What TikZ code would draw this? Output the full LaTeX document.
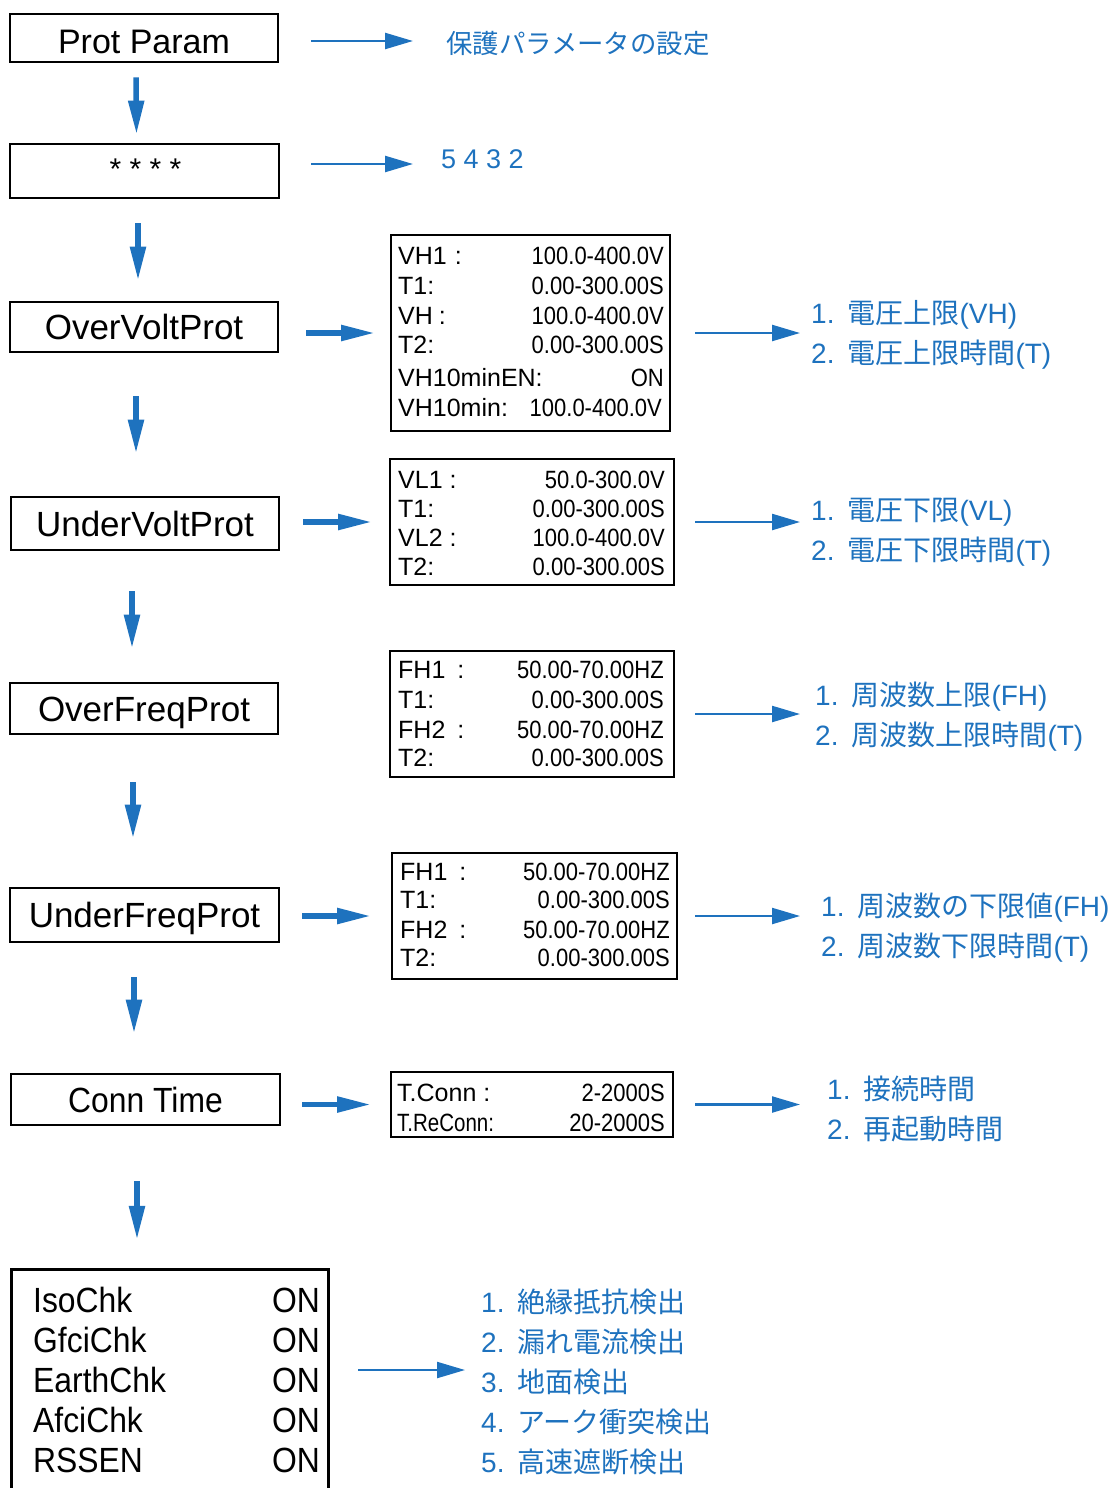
\documentclass[tikz,border=0pt]{standalone}
\usepackage{fontspec}
\setmainfont{Liberation Sans}
\newfontfamily\cjk{Noto Sans CJK JP}
\newfontfamily\condA[FakeStretch=0.82]{Liberation Sans}
\newfontfamily\condB[FakeStretch=0.88]{Liberation Sans}
\newfontfamily\condC[FakeStretch=0.91]{Liberation Sans}
\usetikzlibrary{arrows.meta}
\definecolor{ablue}{RGB}{30,114,190}
\newcommand\myrow[6]{%
  \node[lab] (#1l) at (#2,#4+9) {#5};
  \node[val] (#1v) at (#3,#4+9) {#6};}
\newcommand\chkrow[3]{%
  \node[clab] (#1l) at (33,#2+12.5) {#3};
  \node[cval] (#1v) at (320,#2+12.5) {ON};}
\tikzset{
  lbox/.style={draw, line width=2.8pt, inner sep=0pt, text height=25pt, text depth=0pt,
    font=\fontsize{35}{35}\selectfont},
  mbox/.style={draw, line width=2pt, inner sep=0pt},
  lab/.style={anchor=base west, inner sep=0pt, font=\fontsize{25}{25}\selectfont},
  val/.style={anchor=base east, inner sep=0pt, font=\condB\fontsize{25}{25}\selectfont},
  clab/.style={anchor=base west, inner sep=0pt, font=\condC\fontsize{35}{35}\selectfont},
  cval/.style={anchor=base east, inner sep=0pt, font=\condC\fontsize{35}{35}\selectfont},
  note/.style={anchor=base west, inner sep=0pt, align=left, text=ablue,
    font=\fontsize{28}{40}\selectfont},
  darr/.style={draw=ablue, line width=5.5pt, -{Triangle[length=34pt,width=15pt]}},
  tarr/.style={draw=ablue, line width=2.3pt, -{Triangle[length=28pt,width=16pt]}}
}
\begin{document}
\begin{tikzpicture}[x=1pt,y=-1pt]
\useasboundingbox (0,0) rectangle (1114,1488);

% left column boxes
\node[lbox, minimum width=268pt, minimum height=48pt, text height=30pt,
  font=\fontsize{34}{34}\selectfont] (pp) at (144,38) {Prot Param};
\node[lbox, minimum width=269pt, minimum height=54pt] (pw) at (144.5,171) {};
\node[inner sep=0pt, anchor=base, font=\fontsize{30}{30}\selectfont] (pwt) at (145.5,179) {* * * *};
\node[lbox, minimum width=268pt, minimum height=50pt] (ov) at (144,327) {OverVoltProt};
\node[lbox, minimum width=268pt, minimum height=53pt] (uv) at (145,523.5) {UnderVoltProt};
\node[lbox, minimum width=268pt, minimum height=51pt] (of) at (144,708.5) {OverFreqProt};
\node[lbox, minimum width=269pt, minimum height=54pt] (uf) at (144.5,915) {UnderFreqProt};
\node[lbox, minimum width=269pt, minimum height=51pt, font=\condC\fontsize{35}{35}\selectfont] (ct) at (145.5,1099.5) {Conn Time};
\node[inner sep=0pt, minimum width=316pt, minimum height=218pt] (chk) at (170,1379) {};
\draw[line width=2.8pt] (chk.south west) |- (chk.north east) -- (chk.south east);
\chkrow{c1}{1300}{IsoChk}
\chkrow{c2}{1340}{GfciChk}
\chkrow{c3}{1380}{EarthChk}
\chkrow{c4}{1420}{AfciChk}
\chkrow{c5}{1460}{RSSEN}

% down arrows
\draw[darr] ([xshift=-8pt,yshift=-14pt]pp.south) -- ([xshift=-8pt,yshift=8pt]pw.north);
\draw[darr] ([xshift=-6.5pt,yshift=-24pt]pw.south) -- ([xshift=-6pt,yshift=20pt]ov.north);
\draw[darr] ([xshift=-8pt,yshift=-43pt]ov.south) -- ([xshift=-9pt,yshift=42pt]uv.north);
\draw[darr] ([xshift=-13pt,yshift=-40pt]uv.south) -- ([xshift=-12pt,yshift=33pt]of.north);
\draw[darr] ([xshift=-11pt,yshift=-47pt]of.south) -- ([xshift=-11.5pt,yshift=48pt]uf.north);
\draw[darr] ([xshift=-10.5pt,yshift=-34pt]uf.south) -- ([xshift=-11.5pt,yshift=39pt]ct.north);
\draw[darr] ([xshift=-8.5pt,yshift=-55pt]ct.south) -- ([xshift=-33pt,yshift=30pt]chk.north);

% top texts
\node[anchor=west, inner sep=0pt, text=ablue, font=\cjk\fontsize{26.4}{26.4}\selectfont] (t0) at (446,44) {保護パラメータの設定};
\node[anchor=west, inner sep=0pt, text=ablue, font=\fontsize{27}{27}\selectfont] (t1) at (441,159) {5 4 3 2};
\draw[tarr] ([xshift=32pt,yshift=-3pt]pp.east) -- ([xshift=-33pt,yshift=3pt]t0.west);
\draw[tarr] ([xshift=31pt,yshift=7pt]pw.east) -- ([xshift=-28pt,yshift=-5pt]t1.west);

% middle boxes
\node[mbox, minimum width=279pt, minimum height=196pt] (ma) at (530.5,333) {};
\node[mbox, minimum width=284pt, minimum height=126pt] (mb) at (532,522) {};
\node[mbox, minimum width=284pt, minimum height=126pt] (mc) at (532,714) {};
\node[mbox, minimum width=285pt, minimum height=126pt] (md) at (534.5,916) {};
\node[mbox, minimum width=282pt, minimum height=65pt] (me) at (532,1104.5) {};

\myrow{a1}{398}{664}{255}{VH1\hspace{8pt}:}{100.0-400.0V}
\myrow{a2}{398}{664}{285}{T1:}{0.00-300.00S}
\myrow{a3}{398}{664}{315}{VH\hspace{6pt}:}{100.0-400.0V}
\myrow{a4}{398}{664}{344}{T2:}{0.00-300.00S}
\myrow{a5}{398}{664}{377}{VH10minEN:}{ON}
\myrow{a6}{398}{662}{407}{VH10min:}{100.0-400.0V}

\myrow{b1}{398}{665}{479}{VL1\hspace{7pt}:}{50.0-300.0V}
\myrow{b2}{398}{665}{508}{T1:}{0.00-300.00S}
\myrow{b3}{398}{665}{537}{VL2\hspace{7pt}:}{100.0-400.0V}
\myrow{b4}{398}{665}{566}{T2:}{0.00-300.00S}

\myrow{c1}{398}{664}{669}{FH1\hspace{12pt}:}{50.00-70.00HZ}
\myrow{c2}{398}{664}{699}{T1:}{0.00-300.00S}
\myrow{c3}{398}{664}{729}{FH2\hspace{12pt}:}{50.00-70.00HZ}
\myrow{c4}{398}{664}{757}{T2:}{0.00-300.00S}

\myrow{d1}{400}{670}{871}{FH1\hspace{12pt}:}{50.00-70.00HZ}
\myrow{d2}{400}{670}{899}{T1:}{0.00-300.00S}
\myrow{d3}{400}{670}{929}{FH2\hspace{12pt}:}{50.00-70.00HZ}
\myrow{d4}{400}{670}{957}{T2:}{0.00-300.00S}

\myrow{e1}{397}{665}{1092}{T.Conn\hspace{7pt}:}{2-2000S}
\myrow{e2}{397}{665}{1122}{{\condA T.ReConn:}}{20-2000S}

% left -> middle arrows
\draw[darr, shorten <=27pt, shorten >=15pt] (ma.west -| ov.east) -- (ma.west);
\draw[darr, shorten <=23pt, shorten >=17pt] (mb.west -| uv.east) -- (mb.west);
\draw[darr, shorten <=22pt, shorten >=20pt] (md.west -| uf.east) -- (md.west);
\draw[darr, shorten <=21pt, shorten >=19pt] (me.west -| ct.east) -- (me.west);

% right notes (base = baseline of last line)
\node[note] (n1) at (811,363) {1.\hspace{13pt}{\cjk 電圧上限}(VH)\\2.\hspace{13pt}{\cjk 電圧上限時間}(T)};
\node[note] (n2) at (811,560) {1.\hspace{13pt}{\cjk 電圧下限}(VL)\\2.\hspace{13pt}{\cjk 電圧下限時間}(T)};
\node[note] (n3) at (815,745) {1.\hspace{13pt}{\cjk 周波数上限}(FH)\\2.\hspace{13pt}{\cjk 周波数上限時間}(T)};
\node[note] (n4) at (821,956) {1.\hspace{13pt}{\cjk 周波数の下限値}(FH)\\2.\hspace{13pt}{\cjk 周波数下限時間}(T)};
\node[note] (n5) at (827,1139) {1.\hspace{13pt}{\cjk 接続時間}\\2.\hspace{13pt}{\cjk 再起動時間}};
\node[note] (n6) at (481,1472) {1.\hspace{13pt}{\cjk 絶縁抵抗検出}\\2.\hspace{13pt}{\cjk 漏れ電流検出}\\3.\hspace{13pt}{\cjk 地面検出}\\4.\hspace{13pt}{\cjk アーク衝突検出}\\5.\hspace{13pt}{\cjk 高速遮断検出}};

% middle -> right arrows
\draw[tarr, shorten <=24pt, shorten >=11pt] (ma.east) -- (ma.east -| n1.west);
\draw[tarr, shorten <=20pt, shorten >=11pt] (mb.east) -- (mb.east -| n2.west);
\draw[tarr, shorten <=20pt, shorten >=15pt] (mc.east) -- (mc.east -| n3.west);
\draw[tarr, shorten <=17pt, shorten >=21pt] (md.east) -- (md.east -| n4.west);
\draw[tarr, shorten <=21pt, shorten >=27pt] (me.east) -- (me.east -| n5.west);
\coordinate (a6c) at ([yshift=9pt]chk.east);
\draw[tarr, shorten <=30pt, shorten >=16pt] (a6c) -- (a6c -| n6.west);
\end{tikzpicture}
\end{document}
